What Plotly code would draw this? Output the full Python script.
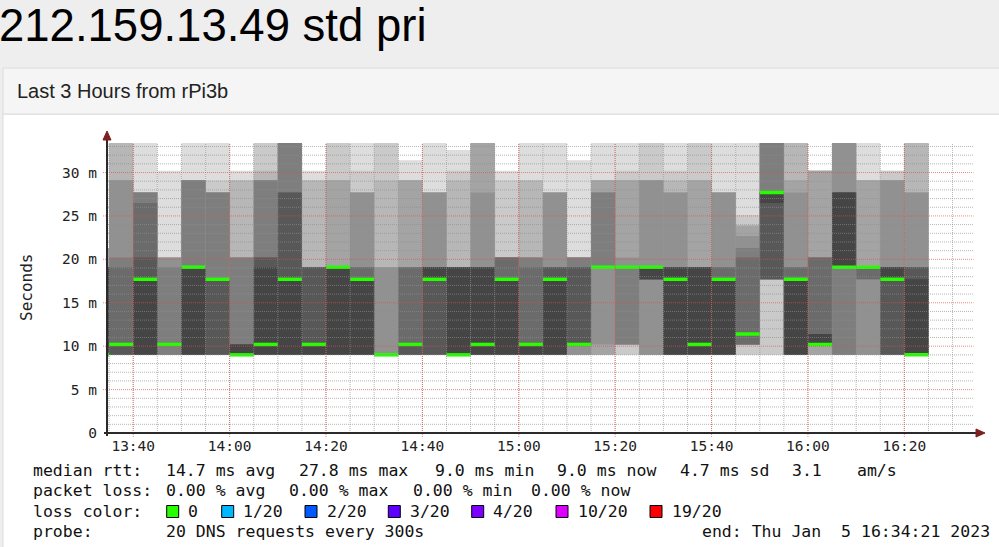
import datetime as dt
import plotly.graph_objects as go

W, H = 999, 547
DAY = "2023-01-05 "

# start of each 5 minute probe round (first one is only partly inside the window)
round_start = [
    "13:30", "13:35", "13:40", "13:45", "13:50", "13:55",
    "14:00", "14:05", "14:10", "14:15", "14:20", "14:25",
    "14:30", "14:35", "14:40", "14:45", "14:50", "14:55",
    "15:00", "15:05", "15:10", "15:15", "15:20", "15:25",
    "15:30", "15:35", "15:40", "15:45", "15:50", "15:55",
    "16:00", "16:05", "16:10", "16:15", "16:20",
]

# rtt of the 20 pings in each round, as (ms, count); 34 = above the graph top
rtt_counts = [
    [(9.0, 11), (19.1, 5), (21.3, 4)],
    [(9.0, 8), (10.2, 5), (19.1, 1), (20.2, 1), (29.1, 2), (34.0, 3)],
    [(9.0, 9), (17.7, 3), (20.2, 1), (26.5, 1), (27.7, 5), (34.0, 1)],
    [(9.0, 6), (10.2, 8), (19.1, 1), (20.2, 4), (30.2, 1)],
    [(9.0, 9), (19.1, 5), (29.1, 5), (34.0, 1)],
    [(9.0, 8), (17.7, 6), (27.7, 4), (29.1, 1), (34.0, 1)],
    [(9.0, 11), (10.2, 3), (20.2, 3), (29.1, 2), (30.2, 1)],
    [(9.0, 9), (10.2, 2), (19.1, 1), (20.2, 2), (29.1, 3), (30.2, 1), (34.0, 2)],
    [(9.0, 9), (17.7, 3), (27.7, 2), (34.0, 6)],
    [(9.0, 9), (10.2, 3), (19.1, 5), (29.1, 2), (30.2, 1)],
    [(9.0, 9), (19.1, 7), (29.1, 2), (34.0, 2)],
    [(9.0, 9), (17.7, 4), (19.1, 2), (27.7, 3), (30.2, 1), (34.0, 1)],
    [(9.0, 15), (19.1, 2), (29.1, 1), (34.0, 2)],
    [(9.0, 8), (10.2, 5), (19.1, 3), (29.1, 3), (31.4, 1)],
    [(9.0, 8), (17.7, 3), (19.1, 4), (27.7, 4), (34.0, 1)],
    [(9.0, 11), (19.1, 6), (29.1, 1), (30.2, 1), (32.6, 1)],
    [(9.0, 9), (10.2, 2), (19.1, 4), (27.7, 1), (34.0, 4)],
    [(9.0, 9), (17.7, 4), (20.2, 5), (29.1, 1), (30.2, 1)],
    [(9.0, 9), (10.2, 4), (19.1, 1), (20.2, 3), (29.1, 2), (34.0, 1)],
    [(9.0, 9), (17.7, 3), (19.1, 3), (27.7, 4), (34.0, 1)],
    [(9.0, 5), (10.2, 7), (19.1, 2), (20.2, 5), (31.4, 1)],
    [(9.0, 4), (10.2, 1), (19.1, 9), (27.7, 2), (29.1, 3), (34.0, 1)],
    [(9.0, 2), (10.2, 4), (19.1, 9), (20.2, 1), (29.1, 2), (30.2, 1), (34.0, 1)],
    [(9.0, 5), (17.7, 4), (19.1, 6), (29.1, 3), (34.0, 2)],
    [(9.0, 9), (17.7, 2), (19.1, 4), (27.7, 2), (29.1, 1), (30.2, 1), (34.0, 1)],
    [(9.0, 9), (10.2, 2), (19.1, 5), (29.1, 2), (34.0, 2)],
    [(9.0, 9), (17.7, 4), (19.1, 2), (27.7, 4), (34.0, 1)],
    [(9.0, 2), (10.2, 5), (11.4, 6), (20.2, 1), (21.3, 1), (22.7, 1), (23.9, 2), (25.1, 1), (34.0, 1)],
    [(9.0, 2), (17.7, 6), (26.5, 1), (27.7, 5), (34.0, 6)],
    [(9.0, 9), (17.7, 4), (19.1, 2), (27.7, 1), (29.1, 1), (34.0, 3)],
    [(9.0, 4), (10.2, 7), (11.4, 2), (20.2, 3), (30.2, 4)],
    [(9.0, 6), (19.1, 5), (27.7, 4), (34.0, 5)],
    [(9.0, 5), (17.7, 2), (19.1, 9), (29.1, 3), (34.0, 1)],
    [(9.0, 8), (17.7, 3), (19.1, 4), (29.1, 3), (30.2, 2)],
    [(9.0, 11), (17.7, 1), (19.1, 3), (27.7, 2), (34.0, 3)],
]

y_ticks = [0, 5, 10, 15, 20, 25, 30]
y_labels = ["0", "5 m", "10 m", "15 m", "20 m", "25 m", "30 m"]
x_ticks = ["13:40", "14:00", "14:20", "14:40", "15:00", "15:20", "15:40", "16:00", "16:20"]
window = ("13:34:21", "16:34:21")
y_top = 33.4

rtt_line = ["14.7 ms avg", "27.8 ms max", "9.0 ms min", "9.0 ms now", "4.7 ms sd", "3.1", "am/s"]
loss_line = ["0.00 % avg", "0.00 % max", "0.00 % min", "0.00 % now"]
loss_labels = ["0", "1/20", "2/20", "3/20", "4/20", "10/20", "19/20"]
loss_colors = ["#26ff00", "#00b8ff", "#0059ff", "#5e00ff", "#7e00ff", "#dd00ff", "#ff0000"]


def px(x):
    return x / W


def py(y):
    return 1 - y / H


# plot area in pixels
X0, X1, YB, YT = 106, 973.5, 433, 143

# expand the counts into the sorted 20 samples
pings = []
for counts in rtt_counts:
    row = []
    for ms, n in counts:
        row += [ms] * n
    pings.append(sorted(row))

x_start = [DAY + t for t in round_start]
fig = go.Figure()

# smoke: pairs of samples from the outside in, darker towards the median
for k in range(10):
    shade = int(190 / 10 * (10 - (k + 1))) + 50
    lo = [p[k] for p in pings]
    hi = [p[19 - k] for p in pings]
    fig.add_trace(go.Bar(
        x=x_start, base=lo, y=[h - l for h, l in zip(hi, lo)],
        width=300000, offset=0,
        marker=dict(color=f"rgb({shade},{shade},{shade})", line=dict(width=0)),
        hoverinfo="skip", showlegend=False,
    ))

median = [(p[9] + p[10]) / 2 for p in pings]
fig.add_trace(go.Bar(
    x=x_start, base=[m - 0.2 for m in median], y=[0.4] * len(median),
    width=300000, offset=0,
    marker=dict(color=loss_colors[0], line=dict(width=0)),
    hoverinfo="skip", showlegend=False,
))

shapes = []
# page panel
shapes.append(dict(type="rect", xref="paper", yref="paper", x0=px(3), x1=px(1010),
                   y0=py(114), y1=py(560), fillcolor="white", line=dict(color="#dcdcdc", width=1),
                   layer="below"))
shapes.append(dict(type="rect", xref="paper", yref="paper", x0=px(3), x1=px(1010),
                   y0=py(68), y1=py(114), fillcolor="#f5f5f5", line=dict(color="#dcdcdc", width=1),
                   layer="below"))

grid = dict(color="rgba(143,143,143,0.65)", width=1, dash="1px,1px")
mgrid = dict(color="rgba(222,79,79,0.65)", width=1, dash="1px,1px")

for v in range(1, 34):
    if v % 5:
        shapes.append(dict(type="line", xref="paper", yref="y", x0=px(X0), x1=px(X1),
                           y0=v, y1=v, line=grid, layer="above"))
t = dt.datetime(2023, 1, 5, 13, 35)
while t <= dt.datetime(2023, 1, 5, 16, 30):
    s = t.strftime("%Y-%m-%d %H:%M")
    shapes.append(dict(type="line", xref="x", yref="paper", x0=s, x1=s,
                       y0=py(YB), y1=py(YT), line=grid, layer="above"))
    t += dt.timedelta(minutes=5)
for v in y_ticks[1:]:
    shapes.append(dict(type="line", xref="paper", yref="y", x0=px(103), x1=px(X1),
                       y0=v, y1=v, line=mgrid, layer="above"))
for s in x_ticks:
    shapes.append(dict(type="line", xref="x", yref="paper", x0=DAY + s, x1=DAY + s,
                       y0=py(437), y1=py(YT), line=mgrid, layer="above"))

# axes with arrows
axis_col = "#2a2a2a"
arrow_col = "#7f1f1f"
shapes.append(dict(type="line", xref="paper", yref="paper", x0=px(104), x1=px(977),
                   y0=py(433), y1=py(433), line=dict(color=axis_col, width=2), layer="above"))
shapes.append(dict(type="line", xref="paper", yref="paper", x0=px(107), x1=px(107),
                   y0=py(436), y1=py(139), line=dict(color=axis_col, width=2), layer="above"))
shapes.append(dict(type="path", xref="paper", yref="paper",
                   path=f"M {px(976)},{py(429)} L {px(976)},{py(437)} L {px(985)},{py(433)} Z",
                   fillcolor=arrow_col, line=dict(color=arrow_col, width=1), layer="above"))
shapes.append(dict(type="path", xref="paper", yref="paper",
                   path=f"M {px(103)},{py(140)} L {px(111)},{py(140)} L {px(107)},{py(131)} Z",
                   fillcolor=arrow_col, line=dict(color=arrow_col, width=1), layer="above"))

mono = "DejaVu Sans Mono"
annotations = []


def text_at(text, x, y, size, family=mono, color="#111", **kw):
    annotations.append(dict(text=text.replace("  ", "\u00a0 "), xref="paper", yref="paper",
                            x=px(x), y=py(y), xanchor=kw.pop("xanchor", "left"),
                            yanchor="middle", showarrow=False, borderpad=0,
                            font=dict(family=family, size=size, color=color), **kw))


sans = "Liberation Sans, Arial"
text_at("212.159.13.49 std pri", -2, 26, 45.5, family=sans, color="#000")
text_at("Last 3 Hours from rPi3b", 16, 91, 20, family=sans, color="#222")
text_at("Seconds", 26, 288, 16, color="#222", xanchor="center", textangle=-90)


def legend_text(text, x, y):
    text_at(text, x - 1, y, 16.5)


legend_text("median rtt:", 33, 470)
for s, x in zip(rtt_line, [165.7, 299, 435, 557, 680, 792, 856.7]):
    legend_text(s, x, 470)
legend_text("packet loss:", 33, 490.5)
for s, x in zip(loss_line, [165.7, 289, 413, 531]):
    legend_text(s, x, 490.5)
legend_text("loss color:", 33, 511)
box_x = [166.7, 221.7, 305, 388.3, 471.7, 556, 650]
for lab, col, bx in zip(loss_labels, loss_colors, box_x):
    shapes.append(dict(type="rect", xref="paper", yref="paper", x0=px(bx), x1=px(bx + 12),
                       y0=py(517.5), y1=py(505.5), fillcolor=col,
                       line=dict(color="#000", width=1), layer="above"))
    legend_text(lab, bx + 21.5, 511)
legend_text("probe:", 33, 531.5)
legend_text("20 DNS requests every 300s", 165.7, 531.5)
legend_text("end: Thu Jan  5 16:34:21 2023", 701.7, 531.5)

fig.update_layout(
    width=W, height=H, autosize=False,
    margin=dict(l=0, r=0, t=0, b=0, pad=0, autoexpand=False),
    paper_bgcolor="#eeeeee", plot_bgcolor="rgba(0,0,0,0)",
    barmode="overlay", showlegend=False,
    shapes=shapes, annotations=annotations,
)
fig.update_xaxes(
    type="date", domain=[px(X0), px(X1)],
    range=[DAY + window[0], DAY + window[1]],
    tickvals=[DAY + s for s in x_ticks], ticktext=x_ticks,
    ticks="", ticklabelstandoff=2,
    showgrid=False, zeroline=False, showline=False,
    tickfont=dict(family=mono, size=14.5, color="#222"),
)
fig.update_yaxes(
    domain=[py(YB), py(YT)], range=[0, y_top],
    tickvals=y_ticks, ticktext=y_labels,
    ticks="", ticklabelstandoff=8,
    showgrid=False, zeroline=False, showline=False,
    tickfont=dict(family=mono, size=14.5, color="#222"),
)

# the page's default body margin would push the figure off the window
fig.write_html("out.html", config={"displayModeBar": False},
               post_script="document.body.style.margin = '0';")
